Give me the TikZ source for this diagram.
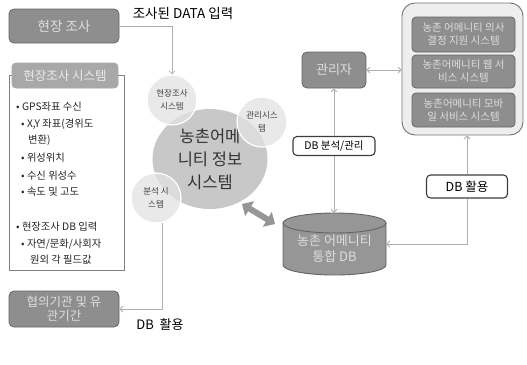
\documentclass[tikz,border=0pt]{standalone}
\usepackage{fontspec}
\setmainfont{Noto Sans CJK KR}
\usetikzlibrary{arrows.meta,calc,shapes.geometric}
\definecolor{boxfill}{RGB}{142,142,142}
\definecolor{boxline}{RGB}{100,100,100}
\definecolor{boxtext}{RGB}{222,222,222}
\definecolor{hdrfill}{RGB}{168,168,168}
\definecolor{bigc}{RGB}{200,200,200}
\definecolor{smallc}{RGB}{226,226,226}
\definecolor{connc}{RGB}{175,175,175}
\definecolor{wline}{RGB}{60,60,60}
\definecolor{panelfill}{RGB}{238,238,238}
\definecolor{panelline}{RGB}{115,115,115}
\definecolor{dbfill}{RGB}{150,150,150}
\definecolor{bigarrow}{RGB}{150,150,150}
\begin{document}
\begin{tikzpicture}[x=1pt,y=-1pt,
  darkbox/.style={draw=boxline, fill=boxfill, rounded corners=5pt, text=boxtext, align=center, inner sep=0pt, line width=0.8pt},
  whitebox/.style={draw=wline, fill=white, rounded corners=4pt, line width=1.1pt, inner sep=0pt, align=center, text=black},
  conn/.style={draw=connc, line width=0.8pt},
  tip/.tip={Straight Barb[length=3pt,width=6pt]},
  smallcirc/.style={circle, minimum size=50pt, inner sep=0pt, fill=smallc, fill opacity=0.75, text opacity=1, draw=white, line width=1.2pt, align=center, text=black!75, font=\fontsize{8.5}{13}\selectfont},
  listtxt/.style={anchor=west, inner sep=0pt, font=\fontsize{10.3}{12}\selectfont, text=black!85}
]
\useasboundingbox (0,0) rectangle (527,364);

% top-left box
\node[darkbox, minimum width=110pt, minimum height=34pt, font=\fontsize{13.5}{16}\selectfont] (jang) at (64,26) {현장 조사};
\node[inner sep=0pt, font=\fontsize{13.5}{16}\selectfont] (datalbl) at (183,13) {조사된 DATA 입력};

% survey system panel
\node[draw=black!50, fill=white, line width=0.8pt, minimum width=115pt, minimum height=195pt, inner sep=0pt] (frame) at (66.5,172.5) {};
\node[darkbox, fill=hdrfill, draw=hdrfill, text=white!92!black, rounded corners=4pt, minimum width=106pt, minimum height=25pt, font=\fontsize{12.5}{15}\selectfont] (hdr) at (65,75.5) {현장조사 시스템};

\node[listtxt] (l1) at (16,107) {• GPS좌표 수신};
\node[listtxt] (l2) at (21,124) {• X,Y 좌표(경위도};
\node[listtxt] (l3) at (28,140) {변환)};
\node[listtxt] (l4) at (21,158) {• 위성위치};
\node[listtxt] (l5) at (21,176) {• 수신 위성수};
\node[listtxt] (l6) at (21,192) {• 속도 및 고도};
\node[listtxt] (l7) at (16,227) {• 현장조사 DB 입력};
\node[listtxt] (l8) at (21,244) {• 자연/문화/사회자};
\node[listtxt] (l9) at (30,260) {원외 각 필드값};

% bottom-left box
\node[darkbox, minimum width=110pt, minimum height=36pt, font=\fontsize{12.5}{13.5}\selectfont] (hyup) at (64,309) {협의기관 및 유\\관기간};
\node[inner sep=0pt, font=\fontsize{13}{15}\selectfont] (uselbl) at (160,325) {DB\ \ 활용};

% circles
\node[ellipse, fill=bigc, minimum width=115pt, minimum height=100pt, inner sep=0pt, align=center, text=black!80, font=\fontsize{16.5}{23}\selectfont] (big) at (210,159) {농촌어메\\니티 정보\\시스템};
\node[smallcirc] (cA) at (172,100) {현장조사\\시스템};
\node[smallcirc] (cB) at (262,122) {관리시스\\템};
\node[smallcirc] (cC) at (156,198) {분석 시\\스템};

% connectors left
\draw[conn, -tip] (jang.east) -| (cA.north);
\draw[conn, -tip] (cC.-76) |- (hyup.east);

% manager
\node[darkbox, minimum width=64pt, minimum height=36pt, font=\fontsize{13}{15}\selectfont] (mgr) at (334,70) {관리자};
\node[whitebox, minimum width=82pt, minimum height=19pt, font=\fontsize{10.5}{12}\selectfont] (dbm) at (334,146) {DB 분석/관리};

% right panel
\node[draw=panelline, fill=panelfill, line width=0.9pt, rounded corners=13pt, minimum width=121pt, minimum height=132pt, inner sep=0pt] (panel) at (462.5,69) {};
\node[darkbox, rounded corners=4pt, minimum width=103pt, minimum height=35pt, font=\fontsize{10.5}{13}\selectfont] (p1) at (463.5,34.5) {농촌 어메니티 의사\\결정 지원 시스템};
\node[darkbox, rounded corners=4pt, minimum width=103pt, minimum height=33pt, font=\fontsize{10.5}{13}\selectfont] (p2) at (463.5,71.5) {농촌어메니티 웹 서\\비스 시스템};
\node[darkbox, rounded corners=4pt, minimum width=103pt, minimum height=34pt, font=\fontsize{10.5}{13}\selectfont] (p3) at (463.5,110) {농촌어메니티 모바\\일 서비스 시스템};

\node[whitebox, minimum width=81pt, minimum height=23pt, font=\fontsize{12.5}{15}\selectfont] (dbuse) at (467,186.5) {DB 활용};

% DB cylinder
\node[minimum width=103pt, minimum height=62pt, inner sep=0pt] (db) at (334.5,244) {};
\fill[dbfill] (283,223) -- (283,265) arc[start angle=180, end angle=360, x radius=51.5pt, y radius=10pt] -- (386,223) -- cycle;
\draw[boxline, line width=0.9pt] (283,223) -- (283,265) arc[start angle=180, end angle=360, x radius=51.5pt, y radius=10pt] -- (386,223);
\draw[boxline, fill=dbfill, line width=0.9pt] (334.5,223) ellipse[x radius=51.5pt, y radius=10pt];
\node[inner sep=0pt, align=center, text=boxtext, font=\fontsize{13}{16}\selectfont] (dbtxt) at (334.5,249) {농촌 어메니티\\통합 DB};

% connectors right
\draw[conn, tip-tip] (mgr.east) -- (panel.west |- mgr.east);
\draw[conn, tip-] (mgr.south) -- (dbm.north);
\draw[conn, -tip] (dbm.south) -- (db.north -| dbm.south);
\draw[conn, tip-] (panel.south -| dbuse.north) -- (dbuse.north);
\draw[conn, -tip] (dbuse.south) |- (db.east);

% big double arrow
\coordinate (ba1) at (242,204);
\coordinate (ba2) at (275,224);
\draw[bigarrow, line width=6pt, {Triangle[width=17pt,length=9pt]}-{Triangle[width=17pt,length=9pt]}] (ba1) -- (ba2);
\end{tikzpicture}
\end{document}
